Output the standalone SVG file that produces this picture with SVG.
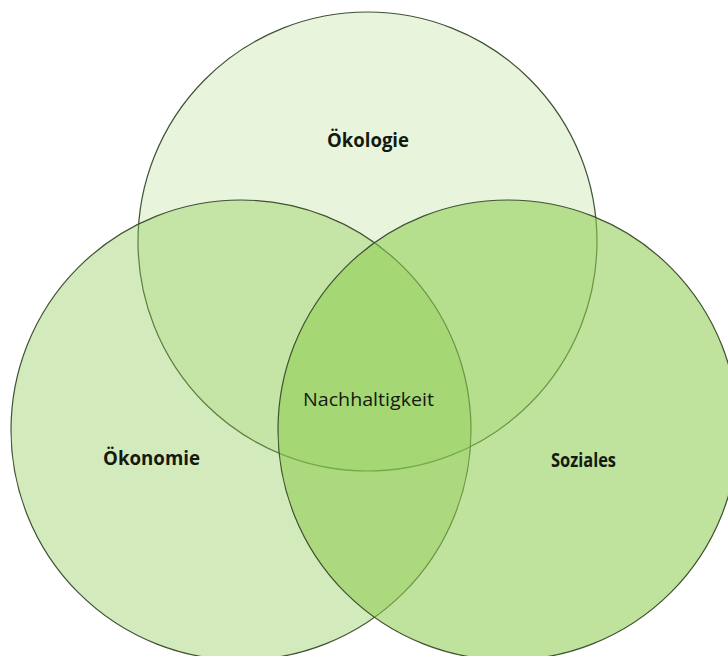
<svg xmlns="http://www.w3.org/2000/svg" width="728" height="656" viewBox="0 0 728 656">
<style>
.c{fill:#8CCB4E;stroke:#3f5232;stroke-width:1.2}
.t{font-family:"Open Sans","Noto Sans","Liberation Sans",sans-serif;font-size:19px;fill:#141a10;text-anchor:middle}
.b{font-weight:bold}
</style>
<rect width="728" height="656" fill="#ffffff"/>
<g id="oekologie"><circle class="c" cx="367.5" cy="241.5" r="229.5" fill-opacity="0.2"/></g>
<g id="oekonomie"><circle class="c" cx="241" cy="430" r="230" fill-opacity="0.38"/></g>
<g id="soziales"><circle class="c" cx="508" cy="430" r="230" fill-opacity="0.56"/></g>
<g id="labels">
<text class="t b" x="368" y="147" textLength="82" lengthAdjust="spacingAndGlyphs">Ökologie</text>
<text class="t b" x="151.5" y="465" textLength="97" lengthAdjust="spacingAndGlyphs">Ökonomie</text>
<text class="t b" x="583.5" y="467" textLength="65" lengthAdjust="spacingAndGlyphs">Soziales</text>
<text id="nachhaltigkeit" class="t" x="368.5" y="406" textLength="131" lengthAdjust="spacingAndGlyphs">Nachhaltigkeit</text>
</g>
</svg>
